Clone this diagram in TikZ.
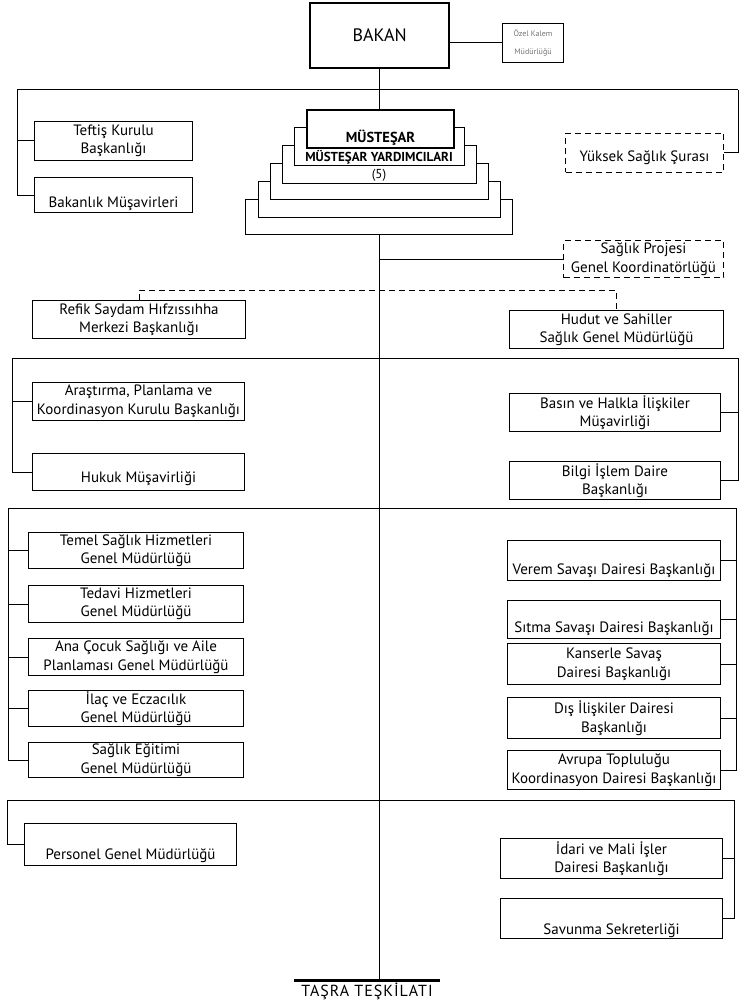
\documentclass[tikz,border=0pt]{standalone}
\usepackage{fontspec}
\setmainfont{PT Sans}
\usepackage{tikz}

\begin{document}
\begin{tikzpicture}[
    x=1pt, y=-1pt,
    box/.style={draw, line width=1pt, anchor=north west, inner sep=0pt, minimum height=38pt, align=center, font=\fontsize{15}{18.5}\selectfont},
    dbox/.style={box, dash pattern=on 6pt off 4pt},
    stackbox/.style={draw, line width=1pt, fill=white, anchor=north west, inner sep=0pt},
    lowered/.style={text height=#1, text depth=0pt},
    link/.style={line width=1pt},
    dlink/.style={link, dash pattern=on 6pt off 4pt}
]
    \useasboundingbox (0,0) rectangle (739,1003);

    \node[box, line width=2.4pt, minimum width=139pt, minimum height=65pt, font=\fontsize{18}{20}\selectfont] (bakan) at (309,2) {BAKAN};
    \node[box, minimum width=61pt, minimum height=39pt, font=\fontsize{8}{18}\selectfont, text=black!55] (ozel) at (502,23) {Özel Kalem\\Müdürlüğü};

    \node[box, minimum width=158pt, minimum height=39pt] (teftis) at (34,121) {Teftiş Kurulu\\Başkanlığı};
    \node[box, minimum width=158pt, minimum height=35pt, lowered=25pt] (musavir) at (34,177) {Bakanlık Müşavirleri};
    \node[dbox, minimum width=158pt, minimum height=39pt, lowered=17pt] (yuksek) at (565,133) {Yüksek Sağlık Şurası};

    \node[stackbox, minimum width=267pt, minimum height=35pt] (yard5) at (245,199) {};
    \node[stackbox, minimum width=242pt, minimum height=36pt] (yard4) at (258,181) {};
    \node[stackbox, minimum width=218pt, minimum height=36pt] (yard3) at (270,163) {};
    \node[stackbox, minimum width=194pt, minimum height=38pt] (yard2) at (282,145) {};
    \node[stackbox, minimum width=170pt, minimum height=38pt] (yard1) at (294,127) {};
    \node[stackbox, line width=2pt, minimum width=147pt, minimum height=38pt, lowered=28pt, font=\fontsize{14.5}{16}\selectfont\bfseries] (mustesar) at (306,109) {MÜSTEŞAR};
    \node[font=\fontsize{13}{14}\selectfont\bfseries] (yardlbl) at (379,157) {MÜSTEŞAR YARDIMCILARI};
    \node[font=\fontsize{13}{14}\selectfont] (yardnum) at (379,175.5) {(5)};

    \node[dbox, minimum width=160pt, minimum height=37pt] (projesi) at (563,240) {Sağlık Projesi\\Genel Koordinatörlüğü};

    \node[box, minimum width=213pt] (refik) at (32,300) {Refik Saydam Hıfzıssıhha\\Merkezi Başkanlığı};
    \node[box, minimum width=214pt] (hudut) at (509,310) {Hudut ve Sahiller\\Sağlık Genel Müdürlüğü};

    \node[box, minimum width=212pt] (arastirma) at (32,382) {Araştırma, Planlama ve\\Koordinasyon Kurulu Başkanlığı};
    \node[box, minimum width=212pt, minimum height=37pt, lowered=21pt] (hukuk) at (32,453) {Hukuk Müşavirliği};
    \node[box, minimum width=211pt] (basin) at (509,393) {Basın ve Halkla İlişkiler\\Müşavirliği};
    \node[box, minimum width=211pt] (bilgi) at (509,461) {Bilgi İşlem Daire\\Başkanlığı};

    \node[box, minimum width=215pt, minimum height=36pt] (temel) at (28,532) {Temel Sağlık Hizmetleri\\Genel Müdürlüğü};
    \node[box, minimum width=215pt, minimum height=37pt] (tedavi) at (28,585) {Tedavi Hizmetleri\\Genel Müdürlüğü};
    \node[box, minimum width=215pt, minimum height=37pt] (anacocuk) at (28,638) {Ana Çocuk Sağlığı ve Aile\\Planlaması Genel Müdürlüğü};
    \node[box, minimum width=215pt, minimum height=36pt] (ilac) at (28,690) {İlaç ve Eczacılık\\Genel Müdürlüğü};
    \node[box, minimum width=215pt, minimum height=35pt] (egitim) at (28,742) {Sağlık Eğitimi\\Genel Müdürlüğü};

    \node[box, minimum width=213pt, minimum height=40pt, lowered=28pt] (verem) at (507,540) {Verem Savaşı Dairesi Başkanlığı};
    \node[box, minimum width=213pt, minimum height=38pt, lowered=26pt] (sitma) at (507,600) {Sıtma Savaşı Dairesi Başkanlığı};
    \node[box, minimum width=213pt, minimum height=41pt] (kanser) at (507,643) {Kanserle Savaş\\Dairesi Başkanlığı};
    \node[box, minimum width=213pt, minimum height=41pt] (disiliski) at (507,697) {Dış İlişkiler Dairesi\\Başkanlığı};
    \node[box, minimum width=213pt, minimum height=39pt] (avrupa) at (507,750) {Avrupa Topluluğu\\Koordinasyon Dairesi Başkanlığı};

    \node[box, minimum width=212pt, minimum height=42pt, lowered=30pt] (personel) at (24,823) {Personel Genel Müdürlüğü};
    \node[box, minimum width=222pt, minimum height=40pt] (idari) at (500,838) {İdari ve Mali İşler\\Dairesi Başkanlığı};
    \node[box, minimum width=222pt, minimum height=40pt, lowered=32pt] (savunma) at (500,898) {Savunma Sekreterliği};

    \node[font=\fontsize{16}{18}\selectfont\addfontfeature{LetterSpace=6}, minimum width=145pt, inner sep=2pt] (tasra) at (367,991) {TAŞRA TEŞKİLATI};

    \coordinate (b1w) at (17,90);
    \coordinate (b1e) at (738,90);
    \coordinate (dbar) at (378.5,290);
    \coordinate (b2w) at (12,358);
    \coordinate (b2e) at (738,358);
    \coordinate (b3w) at (8,508);
    \coordinate (b3e) at (736,508);
    \coordinate (b4w) at (7,800);
    \coordinate (b4e) at (734,800);

    \draw[link] (bakan.south) -- (bakan.south |- mustesar.north);
    \draw[link] (yard5.south) -- (yard5.south |- tasra.north);
    \draw[line width=2.4pt] (tasra.north west) -- (tasra.north east);
    \draw[link] (bakan.east |- ozel.west) -- (ozel.west);

    \draw[link] (b1w) -- (b1e);
    \draw[link] (b1w) |- (teftis.west);
    \draw[link] (b1w) |- (musavir.west);
    \draw[link] (b1e) |- (yuksek.east);
    \draw[link] (projesi.west -| yard5.south) -- (projesi.west);
    \draw[dlink] (refik.north) |- (dbar) -| (hudut.north);

    \draw[link] (b2w) -- (b2e);
    \draw[link] (b2w) |- (arastirma.west);
    \draw[link] (b2w) |- (hukuk.west);
    \draw[link] (b2e) |- (basin.east);
    \draw[link] (b2e) |- (bilgi.east);

    \draw[link] (b3w) -- (b3e);
    \foreach \n in {temel, tedavi, anacocuk, ilac, egitim}
        \draw[link] (b3w) |- (\n.west);
    \foreach \n in {verem, sitma, kanser, disiliski, avrupa}
        \draw[link] (b3e) |- (\n.east);

    \draw[link] (b4w) -- (b4e);
    \draw[link] (b4w) |- (personel.west);
    \draw[link] (b4e) |- (idari.east);
    \draw[link] (b4e) |- (savunma.east);
\end{tikzpicture}
\end{document}
